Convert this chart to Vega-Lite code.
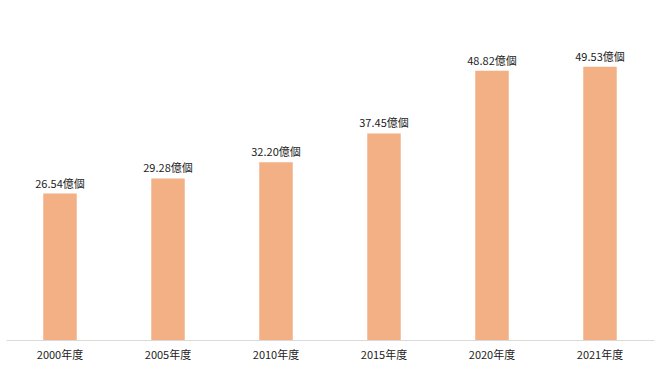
{
  "$schema": "https://vega.github.io/schema/vega-lite/v6.json",
  "autosize": {"type": "none"},
  "width": 648,
  "height": 331,
  "padding": {"left": 6, "top": 9, "right": 6, "bottom": 31},
  "background": "white",
  "config": {"view": {"stroke": null}, "font": "Noto Sans CJK JP"},
  "data": {"values": [
    {"year": "2000年度", "value": 26.54, "label": "26.54億個"},
    {"year": "2005年度", "value": 29.28, "label": "29.28億個"},
    {"year": "2010年度", "value": 32.20, "label": "32.20億個"},
    {"year": "2015年度", "value": 37.45, "label": "37.45億個"},
    {"year": "2020年度", "value": 48.82, "label": "48.82億個"},
    {"year": "2021年度", "value": 49.53, "label": "49.53億個"}
  ]},
  "encoding": {
    "x": {"field": "year", "type": "nominal", "sort": null,
      "scale": {"paddingInner": 0.69, "paddingOuter": 0.345},
      "axis": {"title": null, "labelAngle": 0, "ticks": false, "domainColor": "#d9d9d9", "domainWidth": 1,
        "labelFontSize": 11, "labelColor": "#222222", "labelPadding": 9, "labelFont": "Noto Sans CJK JP"}},
    "y": {"field": "value", "type": "quantitative", "scale": {"domain": [0, 60]}, "axis": null}
  },
  "layer": [
    {"mark": {"type": "bar", "color": "#F2B084"}},
    {"mark": {"type": "text", "dy": -9, "fontSize": 11, "color": "#222222", "font": "Noto Sans CJK JP"},
     "encoding": {"text": {"field": "label"}}}
  ]
}
